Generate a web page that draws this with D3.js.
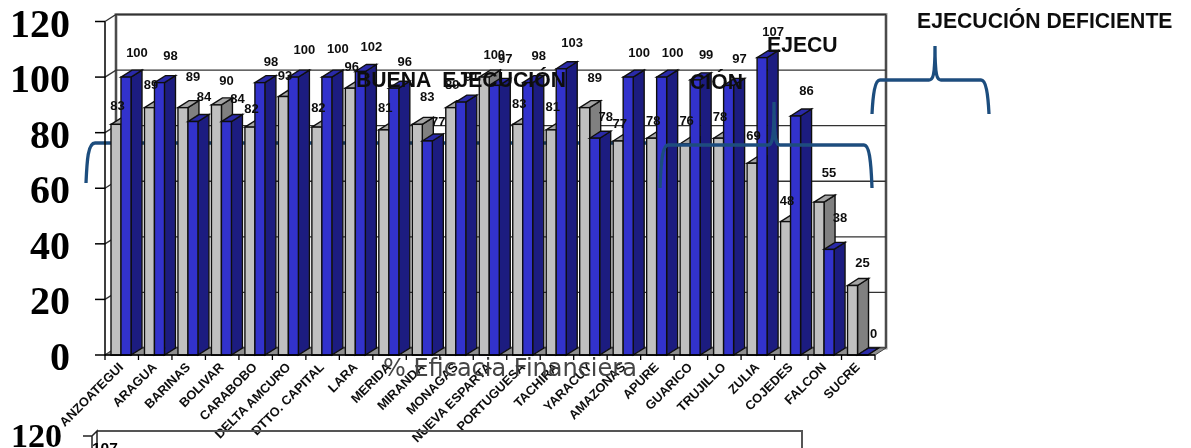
<!DOCTYPE html>
<html>
<head>
<meta charset="utf-8">
<script src="https://cdn.jsdelivr.net/npm/d3@7"></script>
<style>
    html, body { margin: 0; padding: 0; background: #fff; }
    svg { display: block; }
    .val { font: bold 13px "Liberation Sans", Arial, sans-serif; fill: #111; text-anchor: middle; }
    .cat { font: bold 12.8px "Liberation Sans", Arial, sans-serif; fill: #111; text-anchor: end; }
    .tick-label { font: bold 40px "Liberation Serif", "Times New Roman", serif; fill: #000; text-anchor: end; }
    .note { font: bold 21.2px "Liberation Sans", Arial, sans-serif; fill: #111; }
    .brace { fill: none; stroke: #1f4e7e; stroke-width: 3.3; }
</style>
</head>
<body>
<div id="chart"></div>
<script>
(function() {
    'use strict';

    // Data
    var categories = ['ANZOATEGUI', 'ARAGUA', 'BARINAS', 'BOLIVAR', 'CARABOBO', 'DELTA AMCURO', 'DTTO. CAPITAL',
        'LARA', 'MERIDA', 'MIRANDA', 'MONAGAS', 'NUEVA ESPARTA', 'PORTUGUESA', 'TACHIRA', 'YARACUY', 'AMAZONAS',
        'APURE', 'GUARICO', 'TRUJILLO', 'ZULIA', 'COJEDES', 'FALCON', 'SUCRE'];
    var grayValues = [83, 89, 89, 90, 82, 93, 82, 96, 81, 83, 89, 100, 83, 81, 89, 77, 78, 76, 78, 69, 48, 55, 25];
    var blueValues = [100, 98, 84, 84, 98, 100, 100, 102, 96, 77, 91, 97, 98, 103, 78, 100, 100, 99, 97, 107, 86, 38, 0];
    var yTicks = [0, 20, 40, 60, 80, 100, 120];

    // the labels were moved by hand in the original, so each has its own lift above the bar
    var grayLift = [19, 23, 31, 24, 19, 21, 20, 22, 22, 28, 23, 23, 21, 23, 30, 18, 18, 23, 22, 28, 21, 30, 23];
    var blueLift = [25, 27, 25, 23, 21, 28, 29, 25, 27, 20, 26, 27, 27, 26, 22, 25, 25, 25, 27, 26, 25, 32, 22];

    // Second chart, cut off by the bottom of the picture
    var lowerTicks = [120];
    var lowerValues = [107];

    // Layout
    var width = 1191, height = 448;
    var depthX = 11, depthY = 7;
    var left = 105, right = 875, bottom = 355, top = 21.5;

    var svg = d3.select('#chart').append('svg').attr('width', width).attr('height', height);
    var defs = svg.append('defs');
    defs.append('filter').attr('id', 'soft').append('feGaussianBlur').attr('stdDeviation', 0.45);
    defs.append('filter').attr('id', 'softText').append('feGaussianBlur').attr('stdDeviation', 0.3);

    var xScale = d3.scaleBand().domain(categories).range([left, right]);
    var serScale = d3.scaleBand().domain(['gray', 'blue']).range([6, 26]);
    var yScale = d3.scaleLinear().domain([0, 120]).range([bottom, top]);

    var root = svg.append('g').attr('filter', 'url(#soft)');

    function poly(pts) {
        return 'M' + pts.map(function(p) { return p.join(','); }).join('L') + 'Z';
    }

    // Walls
    var elWalls = root.append('g');
    elWalls.append('path')
        .attr('d', poly([[left + depthX, yScale(120) - depthY], [right + depthX, yScale(120) - depthY], [right + depthX, bottom - depthY], [left + depthX, bottom - depthY]]))
        .attr('fill', '#fff')
        .attr('stroke', '#999')
        .attr('stroke-width', 3);
    elWalls.selectAll('.grid').data(yTicks).enter().append('path')
        .attr('class', 'grid')
        .attr('fill', 'none')
        .attr('stroke', '#333')
        .attr('stroke-width', 1.3)
        .attr('d', function(d) {
            var y = yScale(d);
            return 'M' + left + ',' + y + 'L' + (left + depthX) + ',' + (y - depthY) + 'L' + (right + depthX) + ',' + (y - depthY);
        });
    elWalls.append('path')
        .attr('d', 'M' + (left + depthX) + ',' + (yScale(0) - depthY) + 'V' + (yScale(120) - depthY) + 'M' + (right + depthX) + ',' + (yScale(120) - depthY) + 'V' + (yScale(0) - depthY))
        .attr('stroke', '#333')
        .attr('stroke-width', 1.5);
    elWalls.append('path')
        .attr('d', poly([[left, bottom], [right, bottom], [right + depthX, bottom - depthY], [left + depthX, bottom - depthY]]))
        .attr('fill', '#8f8f8f')
        .attr('stroke', '#444');

    // First brace sits behind the bars
    function brace(x0, xPeak, x1, yBar, yEnd, yPeak) {
        var p = 'M' + x0 + ',' + yEnd + 'C' + (x0 + 1) + ',' + (yBar + 14) + ' ' + (x0 + 3) + ',' + yBar + ' ' + (x0 + 8) + ',' + yBar;
        if (xPeak !== null) {
            p += 'H' + (xPeak - 6) + 'C' + (xPeak - 2) + ',' + yBar + ' ' + xPeak + ',' + (yBar - 4) + ' ' + xPeak + ',' + yPeak;
            p += 'C' + xPeak + ',' + (yBar - 4) + ' ' + (xPeak + 2) + ',' + yBar + ' ' + (xPeak + 6) + ',' + yBar;
        }
        p += 'H' + (x1 - 8) + 'C' + (x1 - 3) + ',' + yBar + ' ' + (x1 - 1) + ',' + (yBar + 14) + ' ' + x1 + ',' + yEnd;
        return p;
    }
    root.append('path').attr('class', 'brace')
        .attr('d', 'M86,183C87,160 88,143 95,143H650');

    // Bars
    function drawBar(g, x0, value, w, colors) {
        var y = yScale(value), x1 = x0 + w;
        g.append('path').attr('fill', colors[2]).attr('stroke', '#111').attr('stroke-width', 1.4)
            .attr('d', poly([[x1, y], [x1 + depthX, y - depthY], [x1 + depthX, bottom - depthY], [x1, bottom]]));
        g.append('path').attr('fill', colors[1]).attr('stroke', '#111').attr('stroke-width', 1.4)
            .attr('d', poly([[x0, y], [x0 + depthX, y - depthY], [x1 + depthX, y - depthY], [x1, y]]));
        g.append('rect').attr('fill', colors[0]).attr('stroke', '#111').attr('stroke-width', 1.4)
            .attr('x', x0).attr('y', y).attr('width', w).attr('height', bottom - y);
    }

    var elBars = root.append('g');
    categories.forEach(function(c, i) {
        var g = elBars.append('g');
        drawBar(g, xScale(c) + serScale('gray'), grayValues[i], serScale.bandwidth(), ['#c0c0c0', '#a5a5a5', '#808080']);
        drawBar(g, xScale(c) + serScale('blue'), blueValues[i], serScale.bandwidth(), ['#3333cc', '#2a2aa8', '#1f1f80']);
    });

    // Axes
    var elAxis = root.append('g');
    elAxis.append('path')
        .attr('d', 'M' + left + ',' + yScale(120) + 'V' + bottom + 'H' + right)
        .attr('fill', 'none').attr('stroke', '#000').attr('stroke-width', 1.5);
    elAxis.selectAll('.ytick').data(yTicks).enter().append('path')
        .attr('class', 'ytick')
        .attr('stroke', '#000').attr('stroke-width', 1.5)
        .attr('d', function(d) { return 'M' + (left - 10) + ',' + yScale(d) + 'H' + left; });
    elAxis.selectAll('.xtick').data(categories.concat(['end'])).enter().append('path')
        .attr('class', 'xtick')
        .attr('stroke', '#000').attr('stroke-width', 1.3)
        .attr('d', function(d, i) { var x = left + i * xScale.step(); return 'M' + x + ',' + bottom + 'V' + (bottom + 5); });

    var elText = svg.append('g').attr('filter', 'url(#softText)');
    elText.selectAll('.tick-label').data(yTicks).enter().append('text')
        .attr('class', 'tick-label')
        .attr('x', 70)
        .attr('y', function(d) { return yScale(d) + 15; })
        .text(function(d) { return d; });
    elText.selectAll('.cat').data(categories).enter().append('text')
        .attr('class', 'cat')
        .attr('transform', function(d) { return 'translate(' + (xScale(d) + 19) + ',' + (bottom + 13) + ') rotate(-45)'; })
        .text(function(d) { return d; });
    elText.selectAll('.val-gray').data(grayValues).enter().append('text')
        .attr('class', 'val val-gray')
        .attr('x', function(d, i) { return xScale(categories[i]) + (d > blueValues[i] ? 21 : 12.5); })
        .attr('y', function(d, i) { return yScale(d) - grayLift[i] + 4.5; })
        .text(function(d) { return d; });
    elText.selectAll('.val-blue').data(blueValues).enter().append('text')
        .attr('class', 'val val-blue')
        .attr('x', function(d, i) { return xScale(categories[i]) + 32; })
        .attr('y', function(d, i) { return yScale(d) - blueLift[i] + 4.5; })
        .text(function(d) { return d; });

    elText.append('text').attr('x', 383).attr('y', 376)
        .style('font', '24px "DejaVu Sans", Verdana, sans-serif')
        .attr('fill', '#444')
        .text('% Eficacia Financiera');

    // Notes over the chart
    elText.append('text').attr('class', 'note').attr('x', 356).attr('y', 87).style('white-space', 'pre').text('BUENA  EJECUCIÓN');
    elText.append('text').attr('class', 'note').attr('x', 767).attr('y', 52).text('EJECU');
    elText.append('text').attr('class', 'note').attr('x', 690).attr('y', 89).text('CIÓN');
    elText.append('text').attr('class', 'note').attr('x', 917).attr('y', 28).text('EJECUCIÓN DEFICIENTE');

    elText.append('path').attr('class', 'brace').attr('d', brace(660, 774, 872, 145, 188, 102));
    elText.append('path').attr('class', 'brace').attr('d', brace(872, 935, 989, 80, 114, 46));

    // Top edge of the next chart down
    var lowerY = 436;
    var elLower = svg.append('g').attr('filter', 'url(#softText)');
    elLower.append('path')
        .attr('d', 'M97,431H802V448')
        .attr('fill', 'none').attr('stroke', '#555').attr('stroke-width', 2);
    elLower.append('path')
        .attr('d', 'M83,' + lowerY + 'H92V448M92,' + lowerY + 'L97,431V448')
        .attr('fill', 'none').attr('stroke', '#222').attr('stroke-width', 1.5);
    elLower.selectAll('.lower-tick').data(lowerTicks).enter().append('text')
        .attr('x', 62).attr('y', lowerY + 11)
        .attr('text-anchor', 'end')
        .style('font', 'bold 34px "Liberation Serif", serif')
        .text(function(d) { return d; });
    elLower.selectAll('.lower-val').data(lowerValues).enter().append('text')
        .attr('x', 92).attr('y', 453)
        .style('font', 'bold 15.5px "Liberation Sans", Arial, sans-serif')
        .text(function(d) { return d; });
})();
</script>
</body>
</html>
